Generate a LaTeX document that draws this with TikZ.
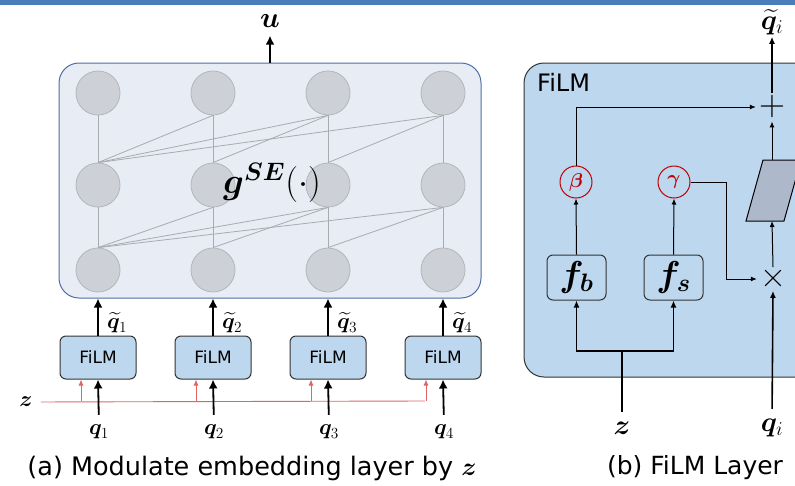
\RequirePackage{fix-cm}
\documentclass[tikz,border=0pt]{standalone}
\usepackage{amsmath}
\usepackage{bm}
\usepackage{fontspec}
\setsansfont{DejaVu Sans}
\usetikzlibrary{arrows.meta,positioning,calc}

\definecolor{barblue}{HTML}{4A7EBB}
\definecolor{netback}{HTML}{E7ECF5}
\definecolor{netedge}{HTML}{4F6EA8}
\definecolor{cellfill}{HTML}{CDD0D6}
\definecolor{celledge}{HTML}{B3B6BB}
\definecolor{linkgray}{HTML}{A8ABB0}
\definecolor{filmblue}{HTML}{BDD7EE}
\definecolor{zred}{HTML}{E06666}
\definecolor{parred}{HTML}{C00000}
\definecolor{skewfill}{HTML}{ADB9CA}

\tikzset{
  cell/.style={circle,draw=celledge,fill=cellfill,line width=0.8pt,minimum size=44pt,inner sep=0pt},
  link/.style={draw=linkgray,line width=0.8pt},
  netbox/.style={draw=netedge,fill=netback,rounded corners=20pt,line width=1pt,minimum width=422pt,minimum height=235pt},
  filmbox/.style={draw=black!80,fill=filmblue,rounded corners=6pt,line width=1pt,minimum width=76pt,minimum height=43pt,font=\sffamily\fontsize{17}{19}\selectfont},
  panel/.style={draw=black!80,fill=filmblue,rounded corners=20pt,line width=1pt,minimum width=306pt,minimum height=314pt},
  fnbox/.style={draw=black!80,rounded corners=6pt,line width=1pt,minimum width=59pt,minimum height=45pt,inner sep=0pt,font=\fontsize{36}{38}\selectfont},
  param/.style={circle,draw=parred,text=parred,line width=1pt,minimum size=32pt,inner sep=0pt,font=\fontsize{20}{22}\selectfont},
  opsign/.style={inner sep=3pt,font=\rmfamily\fontsize{36}{38}\selectfont},
  thickarr/.style={-{Latex[length=9pt,width=9pt]},line width=1.8pt},
  medarr/.style={-{Latex[length=7pt,width=6pt]},line width=1.6pt},
  thinarr/.style={-{Latex[length=6pt,width=5pt]},line width=1pt},
  zarr/.style={-{Latex[length=6pt,width=5pt]},draw=zred,line width=0.9pt},
  lbl/.style={inner sep=0pt,font=\fontsize{22}{24}\selectfont},
  biglbl/.style={inner sep=0pt,font=\fontsize{28}{30}\selectfont},
  caption/.style={inner sep=0pt,font=\sffamily\fontsize{25}{28}\selectfont},
}

\begin{document}
\begin{tikzpicture}[x=1pt,y=-1pt]
\useasboundingbox (0,0) rectangle (795,485);
\clip (0,0) rectangle (795,485);
\fill[barblue] (0,0) rectangle (795,5);

% (a) embedding layer
\node[netbox] (gse) at (270,180.5) {};
\foreach \c/\x in {1/98,2/213,3/328,4/443}{
  \foreach \r/\y in {1/93,2/185,3/270}
    \node[cell] (n\r\c) at (\x,\y) {};
  \draw[link] (n3\c.north) -- (n2\c.south);
  \draw[link] (n2\c.north) -- (n1\c.south);
}
\foreach \a/\b in {1/2,1/3,1/4,2/3,3/4}{
  \draw[link] (n2\a.north) -- (n1\b.south);
  \draw[link] (n3\a.north) -- (n2\b.south);
}
\node[inner sep=0pt,font=\fontsize{36}{38}\selectfont] (gsetext) at (272,183)
  {$\bm{g}^{\bm{SE}}(\cdot)$};
\node[inner sep=0pt,font=\fontsize{29}{31}\selectfont] (u) at (270,21) {$\bm{u}$};
\draw[thickarr,shorten >=8pt] (gse.north) -- (u.south);

% FiLM blocks
\node[lbl] (za) at (26,402) {$\bm{z}$};
\coordinate (zend) at (425,401);
\draw[zred,line width=0.9pt,shorten <=8pt] (za.east) -- (zend);
\foreach \c/\x in {1/98,2/213,3/328,4/443}{
  \node[filmbox] (film\c) at (\x,357.5) {FiLM};
  \draw[thickarr] (film\c.north) -- (film\c.north |- gse.south);
  \node[lbl,anchor=west] (qt\c) at (\x+9,323) {$\widetilde{\bm{q}}_{\c}$};
  \node[lbl] (q\c) at (\x+1,432) {$\bm{q}_{\c}$};
  \draw[thickarr,shorten <=10pt] (q\c.north) -- (film\c.south);
  \draw[zarr] ([xshift=-17pt]film\c.south |- zend) -- ([xshift=-17pt]film\c.south);
}
\node[caption,font=\sffamily\fontsize{25.5}{28}\selectfont] (capa) at (252,468)
  {(a) Modulate embedding layer by $\bm{z}$};

% (b) FiLM layer
\node[panel] (filmpanel) at (677,220) {};
\node[inner sep=0pt,anchor=west,font=\sffamily\fontsize{24}{26}\selectfont] (paneltitle) at (537,82) {FiLM};
\node[opsign] (plus) at (772,107) {+};
\node[opsign] (times) at (773,279) {\texttimes};
\node[param] (beta) at (576,182) {$\bm{\beta}$};
\node[param] (gamma) at (674,182) {$\bm{\gamma}$};
\node[fnbox] (fb) at (576.5,277.5) {$\bm{f}_{\bm{b}}$};
\node[fnbox] (fs) at (673.5,277.5) {$\bm{f}_{\bm{s}}$};
\coordinate (skbot) at (772,221);
\coordinate (sktop) at (772,160);
\draw[fill=skewfill,line width=1pt] (746,221) -- (763,160) -- (801,160) -- (784,221) -- cycle;
\draw[thinarr] (fb.north) -- (beta.south);
\draw[thinarr] (fs.north) -- (gamma.south);
\draw[thinarr] (beta.north) |- (plus.west);
\draw[thinarr] (gamma.east) -- ++(36,0) |- (times.west);
\draw[thinarr] (times.north) -- (skbot);
\draw[thinarr] (sktop) -- (plus.south);
\node[biglbl] (qti) at (772,22) {$\widetilde{\bm{q}}_{i}$};
\draw[medarr,shorten >=2pt] (plus.north) -- (qti.south);
\node[biglbl] (zb) at (622,428) {$\bm{z}$};
\node[biglbl] (qi) at (772,428) {$\bm{q}_{i}$};
\coordinate (zfork) at (622,351);
\draw[line width=1.6pt,shorten <=10pt] (zb.north) -- (zfork);
\draw[medarr] (zfork) -| (fb.south);
\draw[medarr] (zfork) -| (fs.south);
\draw[medarr,shorten <=10pt] (qi.north) -- (times.south);
\node[caption] (capb) at (695,468) {(b) FiLM Layer};
\end{tikzpicture}
\end{document}
